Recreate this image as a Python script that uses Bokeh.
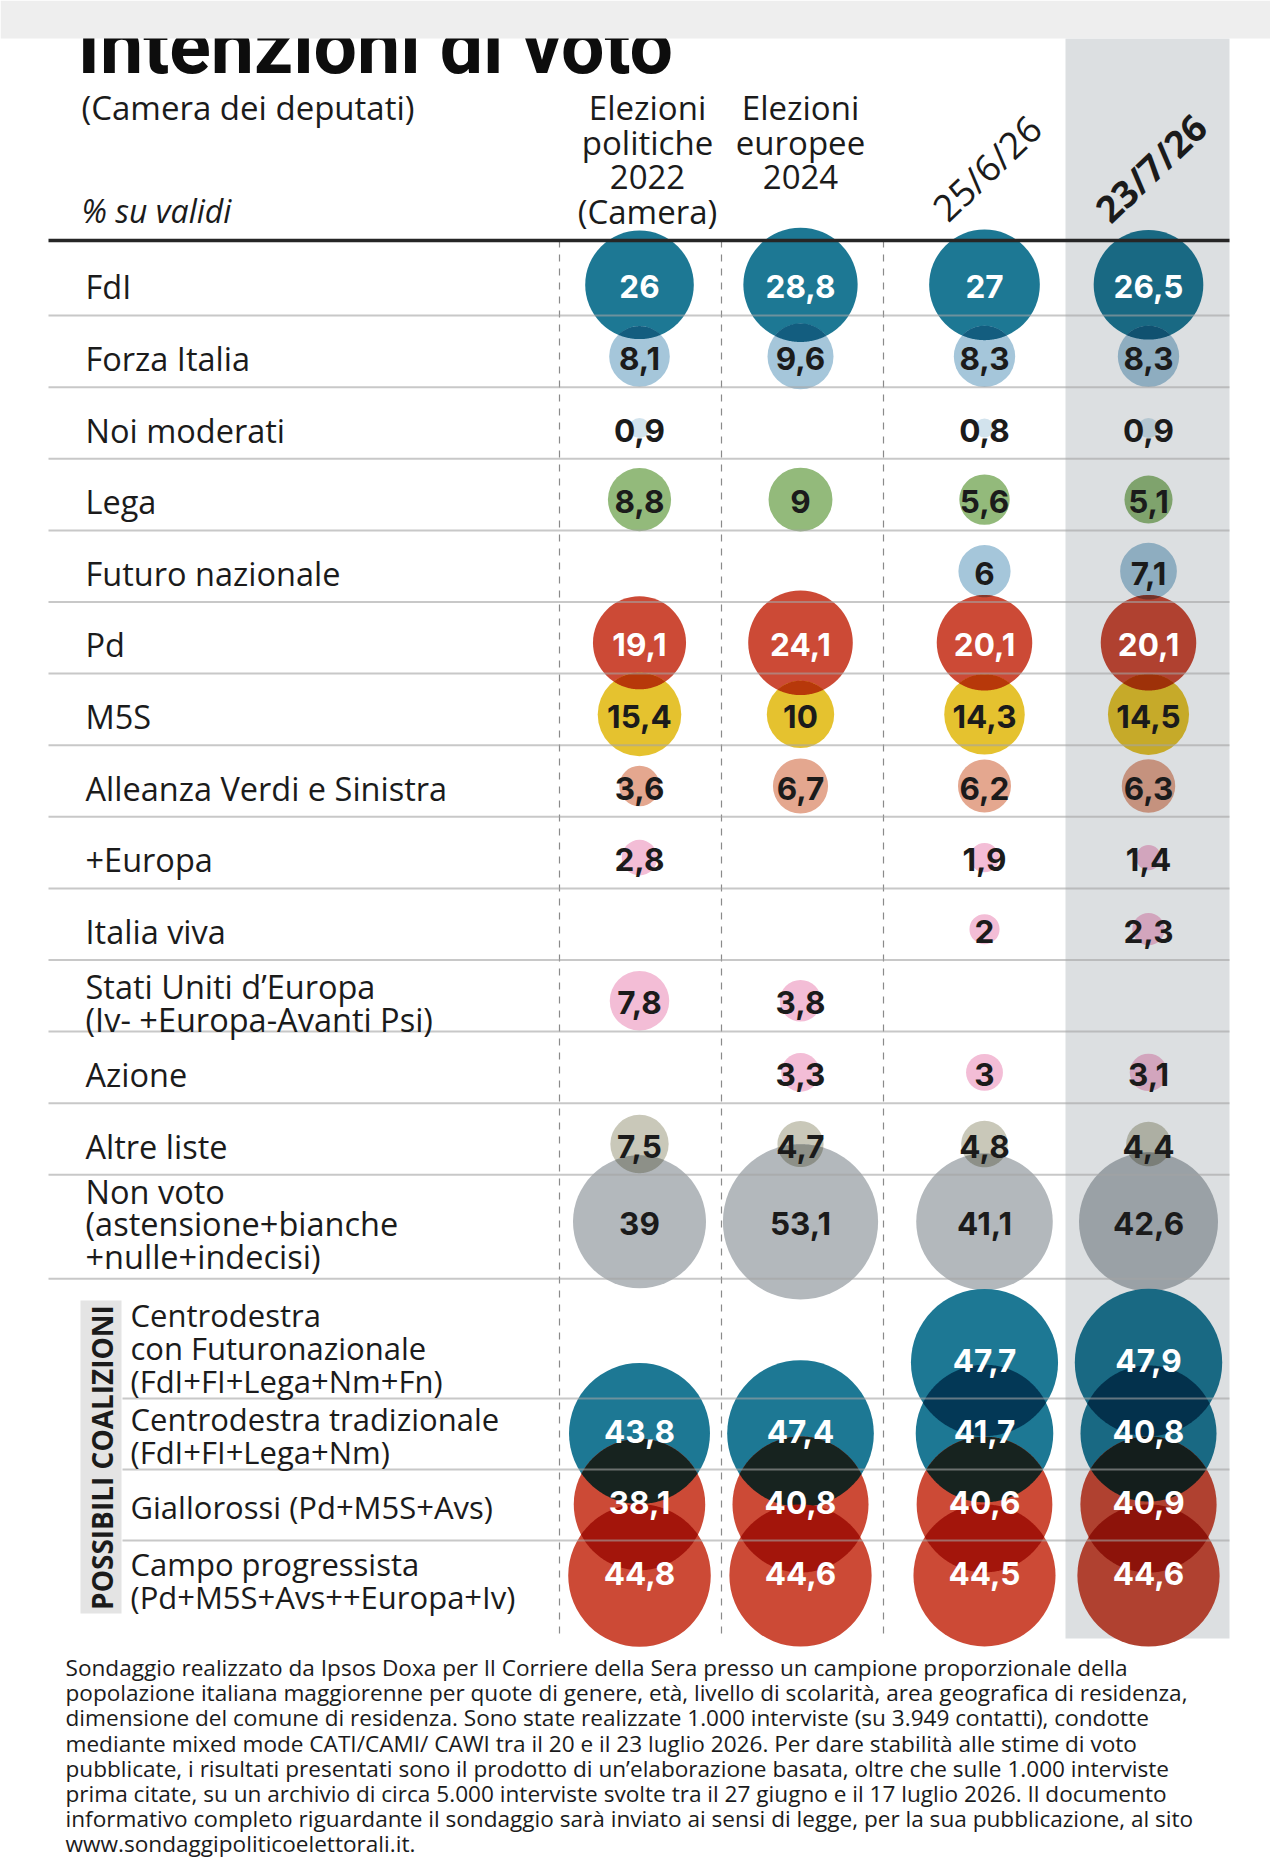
import math
from bokeh.plotting import figure
from bokeh.models import Range1d
from bokeh.core.properties import value
from bokeh.embed import file_html
from bokeh.resources import INLINE

# ---------------- data ----------------
title = "Intenzioni di voto"
subtitle = "(Camera dei deputati)"
unit_label = "% su validi"
col_headers = [["Elezioni", "politiche", "2022", "(Camera)"],
               ["Elezioni", "europee", "2024"]]
date_headers = ["25/6/26", "23/7/26"]

parties = ["FdI", "Forza Italia", "Noi moderati", "Lega", "Futuro nazionale", "Pd", "M5S",
           "Alleanza Verdi e Sinistra", "+Europa", "Italia viva",
           "Stati Uniti d’Europa\n(Iv- +Europa-Avanti Psi)", "Azione", "Altre liste",
           "Non voto\n(astensione+bianche\n+nulle+indecisi)"]
party_colors = ["#1d7894", "#a5c6da", "#d2e3ed", "#93ba7b", "#a5c6da", "#cc4a36", "#e5c22f",
                "#e4a78f", "#f3bdd6", "#f3bdd6", "#f3bdd6", "#f3bdd6", "#c9c8b9", "#b3b8bc"]
party_white_text = [True, False, False, False, False, True, False,
                    False, False, False, False, False, False, False]
pol_2022 = [26, 8.1, 0.9, 8.8, None, 19.1, 15.4, 3.6, 2.8, None, 7.8, None, 7.5, 39]
eur_2024 = [28.8, 9.6, None, 9, None, 24.1, 10, 6.7, None, None, 3.8, 3.3, 4.7, 53.1]
poll_jun = [27, 8.3, 0.8, 5.6, 6, 20.1, 14.3, 6.2, 1.9, 2, None, 3, 4.8, 41.1]
poll_jul = [26.5, 8.3, 0.9, 5.1, 7.1, 20.1, 14.5, 6.3, 1.4, 2.3, None, 3.1, 4.4, 42.6]

coalition_title = "POSSIBILI COALIZIONI"
coalitions = ["Centrodestra\ncon Futuronazionale\n(FdI+FI+Lega+Nm+Fn)",
              "Centrodestra tradizionale\n(FdI+FI+Lega+Nm)",
              "Giallorossi (Pd+M5S+Avs)",
              "Campo progressista\n(Pd+M5S+Avs++Europa+Iv)"]
coal_colors = ["#1d7894", "#1d7894", "#cc4a36", "#cc4a36"]
coal_2022 = [None, 43.8, 38.1, 44.8]
coal_2024 = [None, 47.4, 40.8, 44.6]
coal_jun = [47.7, 41.7, 40.6, 44.5]
coal_jul = [47.9, 40.8, 40.9, 44.6]

note_lines = [
    "Sondaggio realizzato da Ipsos Doxa per Il Corriere della Sera presso un campione proporzionale della",
    "popolazione italiana maggiorenne per quote di genere, età, livello di scolarità, area geografica di residenza,",
    "dimensione del comune di residenza. Sono state realizzate 1.000 interviste (su 3.949 contatti), condotte",
    "mediante mixed mode CATI/CAMI/ CAWI tra il 20 e il 23 luglio 2026. Per dare stabilità alle stime di voto",
    "pubblicate, i risultati presentati sono il prodotto di un’elaborazione basata, oltre che sulle 1.000 interviste",
    "prima citate, su un archivio di circa 5.000  interviste svolte tra il 27 giugno e il 17 luglio 2026. Il documento",
    "informativo completo riguardante il sondaggio sarà inviato ai sensi di legge, per la sua pubblicazione, al sito",
    "www.sondaggipoliticoelettorali.it.",
]

# ---------------- layout / style ----------------
W, H = 1270, 1862
COL_X = [639, 800, 984, 1148]
DASH_X = [559, 721, 883]
BAND_L, BAND_R = 1065, 1229
BAND_COLOR = "#dcdfe1"
LEFT, RIGHT = 48, 1229
HEAD_Y = 240
ROW_H = 71.6
TABLE_TOP = 243.5
K_RADIUS = 10.65
LABEL_FONT = value("Open Sans")
VALUE_FONT = value("Inter")
TXT = "#1b1b1b"


def fmt(v):
    return str(int(v)) if float(v).is_integer() else str(v).replace(".", ",")


def rgb(c):
    c = c.lstrip("#")
    return [int(c[i:i + 2], 16) for i in (0, 2, 4)]


def mul(*cols):
    out = [255.0, 255.0, 255.0]
    for c in cols:
        cc = rgb(c)
        out = [out[i] * cc[i] / 255.0 for i in range(3)]
    return "#%02x%02x%02x" % tuple(int(round(v)) for v in out)


def lens(x, y1, r1, y2, r2, n=360):
    d = abs(y2 - y1)
    if d >= r1 + r2 or d <= abs(r1 - r2):
        return None
    pts = []
    for k in range(n):
        t = 2 * math.pi * k / n
        px, py = x + r1 * math.cos(t), y1 + r1 * math.sin(t)
        if (px - x) ** 2 + (py - y2) ** 2 <= r2 * r2:
            pts.append((px, py))
        px, py = x + r2 * math.cos(t), y2 + r2 * math.sin(t)
        if (px - x) ** 2 + (py - y1) ** 2 <= r1 * r1:
            pts.append((px, py))
    a = (d * d + r1 * r1 - r2 * r2) / (2 * d)
    hh = math.sqrt(max(r1 * r1 - a * a, 0))
    ym = y1 + (a if y2 > y1 else -a)
    pts += [(x - hh, ym), (x + hh, ym)]
    cx = sum(q[0] for q in pts) / len(pts)
    cy = sum(q[1] for q in pts) / len(pts)
    pts.sort(key=lambda q: math.atan2(q[1] - cy, q[0] - cx))
    return [q[0] for q in pts], [q[1] for q in pts]


p = figure(width=W, height=H, x_range=Range1d(0, W), y_range=Range1d(H, 0),
           output_backend="svg", toolbar_location=None, min_border=0,
           x_axis_type=None, y_axis_type=None, outline_line_color=None,
           background_fill_color="white", border_fill_color="white")
p.grid.visible = False

# row geometry
row_h = [ROW_H] * (len(parties) - 1) + [104]
tops = []
t = TABLE_TOP
for h in row_h:
    tops.append(t)
    t += h
table_bottom = t
party_y = [tops[i] + row_h[i] / 2 + (5 if row_h[i] == ROW_H else -5) for i in range(len(parties))]
coal_y = [1362 + 71 * i for i in range(len(coalitions))]

# band for the latest poll
p.quad(left=[BAND_L], right=[BAND_R], top=[38], bottom=[1638], fill_color=BAND_COLOR, line_color=None)

# dashed column separators
p.segment(x0=DASH_X, x1=DASH_X, y0=[HEAD_Y] * 3, y1=[1638] * 3,
          line_color="#8a8a8a", line_width=1.2, line_dash="7 7")

# circles
party_cols = [pol_2022, eur_2024, poll_jun, poll_jul]
coal_cols = [coal_2022, coal_2024, coal_jun, coal_jul]
cx, cy, cr, cc = [], [], [], []
lx, ly, lc = [], [], []
for j in range(4):
    tint = BAND_COLOR if j == 3 else "#ffffff"
    for vals, ys, colors in ((party_cols[j], party_y, party_colors),
                             (coal_cols[j], coal_y, coal_colors)):
        items = [(ys[i], K_RADIUS * math.sqrt(v), colors[i]) for i, v in enumerate(vals) if v is not None]
        for (y, r, c) in items:
            cx.append(COL_X[j]); cy.append(y); cr.append(r); cc.append(mul(c, tint))
        for a in range(len(items)):
            for b in range(a + 1, len(items)):
                res = lens(COL_X[j], items[a][0], items[a][1], items[b][0], items[b][1])
                if res:
                    lx.append(res[0]); ly.append(res[1])
                    lc.append(mul(items[a][2], items[b][2], tint))
p.circle(x=cx, y=cy, radius=cr, fill_color=cc, line_color=None)
p.patches(xs=lx, ys=ly, fill_color=lc, line_color=None)

# row separators
sep_y = tops[1:] + [table_bottom]
p.segment(x0=[LEFT] * len(sep_y), x1=[RIGHT] * len(sep_y), y0=sep_y, y1=sep_y,
          line_color="#a4a4a4", line_alpha=0.6, line_width=2)
csep = [coal_y[i] + 36 for i in range(len(coalitions) - 1)]
p.segment(x0=[122] * len(csep), x1=[RIGHT] * len(csep), y0=csep, y1=csep,
          line_color="#a4a4a4", line_alpha=0.6, line_width=2)
# header rule
p.segment(x0=[LEFT], x1=[RIGHT], y0=[HEAD_Y], y1=[HEAD_Y], line_color="#262626", line_width=3.5)

# coalition box
p.quad(left=[80], right=[121], top=[1300], bottom=[1613], fill_color="#e4e4e4", line_color=None)
p.text(x=[101], y=[1457], text=[coalition_title], angle=math.pi / 2, text_align="center",
       text_baseline="middle", text_font=value("Open Sans"), text_font_style="bold",
       text_font_size="28px", text_color=TXT)


# labels
def put_lines(x, mid, label, spacing, size, align="left", color=TXT, style="normal", font=LABEL_FONT):
    lines = label.split("\n")
    n = len(lines)
    xs = [x] * n
    ys = [mid + (k - (n - 1) / 2) * spacing for k in range(n)]
    p.text(x=xs, y=ys, text=lines, text_align=align, text_baseline="middle",
           text_font=font, text_font_size=size, text_color=color, text_font_style=style)


for i, lab in enumerate(parties):
    put_lines(85, party_y[i] + 2, lab, 32.5, "32.5px")
coal_dy = [-15, 2, 2, 5]
for i, lab in enumerate(coalitions):
    put_lines(130, coal_y[i] + coal_dy[i], lab, 33, "31px")

# values
vx, vy, vt, vc = [], [], [], []
for j in range(4):
    for i, v in enumerate(party_cols[j]):
        if v is not None:
            vx.append(COL_X[j]); vy.append(party_y[i] + 2); vt.append(fmt(v))
            vc.append("#ffffff" if party_white_text[i] else TXT)
    for i, v in enumerate(coal_cols[j]):
        if v is not None:
            vx.append(COL_X[j]); vy.append(coal_y[i] - 2); vt.append(fmt(v)); vc.append("#ffffff")
p.text(x=vx, y=vy, text=vt, text_color=vc, text_align="center", text_baseline="middle",
       text_font=VALUE_FONT, text_font_style="bold", text_font_size="31.5px")

# headers
p.text(x=[81], y=[107], text=[subtitle], text_font=LABEL_FONT, text_font_size="33px",
       text_color=TXT, text_baseline="middle")
p.text(x=[81], y=[210], text=[unit_label], text_font=LABEL_FONT, text_font_size="32px",
       text_font_style="italic", text_color=TXT, text_baseline="middle")
for j, lines in enumerate(col_headers):
    p.text(x=[COL_X[j] + (8 if j == 0 else 0)] * len(lines), y=[107 + 34.6 * k for k in range(len(lines))],
           text=lines, text_align="center", text_baseline="middle", text_font=LABEL_FONT,
           text_font_size="33px", text_color=TXT)
for j, d in enumerate(date_headers):
    p.text(x=[COL_X[2 + j] + 2], y=[167], text=[d], angle=0.76, text_align="center",
           text_baseline="middle", text_font=LABEL_FONT, text_font_size="37px",
           text_font_style="bold" if j == 1 else "normal", text_color=TXT)

# footnote
p.text(x=[65] * len(note_lines), y=[1667 + 25.2 * k for k in range(len(note_lines))], text=note_lines,
       text_font=LABEL_FONT, text_font_size="22.6px", text_color=TXT, text_baseline="middle")

# title (its upper part is hidden under the top bar, as in the original)
p.text(x=[77], y=[46], text=[title], text_font=value("Roboto"), text_font_style="bold",
       text_font_size="77px", text_color="#0d0d0d", text_baseline="middle")
p.quad(left=[0], right=[W], top=[0], bottom=[38], fill_color="#eeeeee", line_color=None)

open("out.html", "w").write(file_html(p, INLINE))
